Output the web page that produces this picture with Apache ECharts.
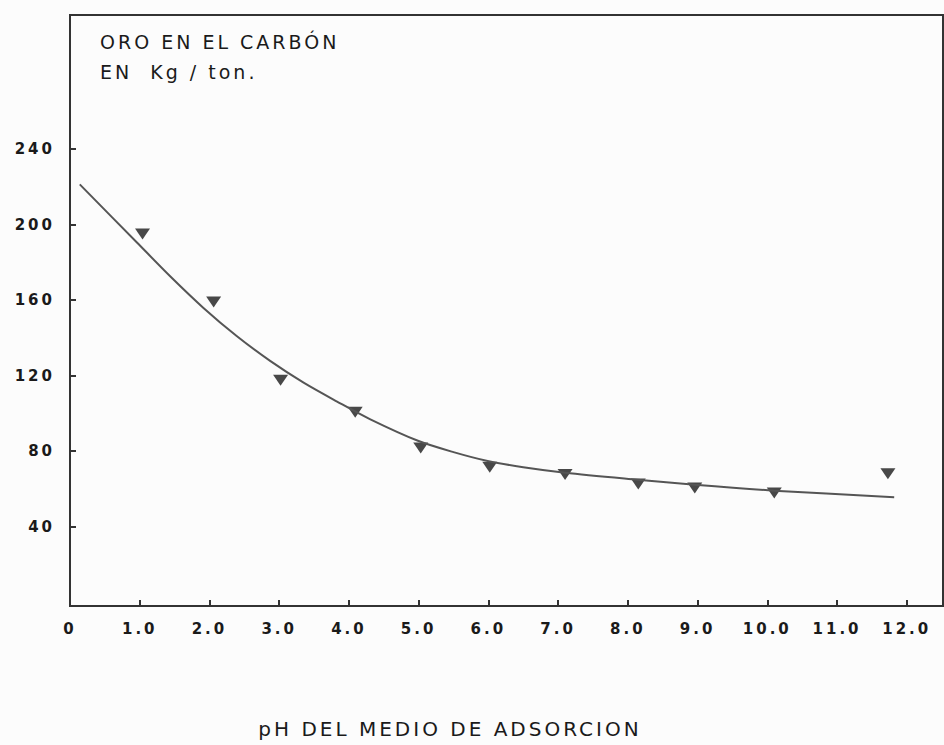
<!DOCTYPE html>
<html>
<head>
<meta charset="utf-8">
<script src="https://cdn.jsdelivr.net/npm/echarts@6/dist/echarts.min.js"></script>
<style>
html,body{margin:0;padding:0;background:#fcfcfc;}
#c{width:944px;height:745px;}
#c text{letter-spacing:3px;}
</style>
</head>
<body>
<div id="c"></div>
<script>
// Measured data (triangles) – pH vs gold on carbon (kg/ton)
const pointsX = [1.04, 2.06, 3.02, 4.09, 5.03, 6.02, 7.1, 8.15, 8.96, 10.1, 11.73];
const pointsY = [195, 159, 117.6, 100.6, 81.7, 71.5, 67.6, 62.6, 60.5, 57.9, 68];
// Fitted curve
const curveX = [0.14, 0.96, 1.44, 1.91, 2.39, 2.87, 3.35, 3.83, 4.3, 4.99, 5.5, 5.99, 6.5, 7.1, 8.14, 8.96, 10.1, 11.82];
const curveY = [221.3, 190.5, 172.5, 156, 141, 127.8, 116.3, 106.3, 97, 85.5, 79.5, 74.8, 71.5, 68.6, 64.9, 62.2, 59.1, 55.6];
// Tick labels
const xTicks = [0, 1, 2, 3, 4, 5, 6, 7, 8, 9, 10, 11, 12];
const yTicks = [40, 80, 120, 160, 200, 240];
const titleLines = ['ORO EN EL CARBÓN', 'EN  Kg / ton.'];
const xAxisTitle = 'pH DEL MEDIO DE ADSORCION';

const chart = echarts.init(document.getElementById('c'), null, {renderer: 'svg'});
const tickFont = {color: '#1a1a1a', fontFamily: 'DejaVu Sans', fontWeight: 'bold', fontSize: 15};
const textStyle = {fontFamily: 'DejaVu Sans', fontSize: 19, fill: '#1a1a1a', verticalAlign: 'middle'};
chart.setOption({
  backgroundColor: '#fcfcfc',
  animation: false,
  grid: {left: 70, top: 15, right: 1, bottom: 139, show: true, borderColor: '#333', borderWidth: 2, backgroundColor: 'transparent'},
  graphic: [
    {type: 'text', x: 100, y: 42, style: Object.assign({text: titleLines[0], align: 'left'}, textStyle)},
    {type: 'text', x: 100, y: 72, style: Object.assign({text: titleLines[1], align: 'left'}, textStyle)},
    {type: 'text', x: 450, y: 729, style: Object.assign({text: xAxisTitle, align: 'center'}, textStyle, {fontSize: 20})}
  ],
  xAxis: {
    type: 'value', min: 0, max: 12.52,
    splitLine: {show: false},
    axisLine: {show: true, onZero: false, lineStyle: {color: '#333', width: 2}},
    axisTick: {show: true, inside: true, length: 6, customValues: xTicks, lineStyle: {color: '#333', width: 2}},
    axisLabel: Object.assign({
      margin: 15, customValues: xTicks,
      formatter: v => v === 0 ? '0' : v.toFixed(1)
    }, tickFont)
  },
  yAxis: {
    type: 'value', min: -2, max: 311,
    splitLine: {show: false},
    axisLine: {show: true, onZero: false, lineStyle: {color: '#333', width: 2}},
    axisTick: {show: true, inside: true, length: 6, customValues: yTicks, lineStyle: {color: '#333', width: 2}},
    axisLabel: Object.assign({margin: 15, customValues: yTicks}, tickFont)
  },
  series: [
    {
      type: 'line', smooth: 0.3, showSymbol: false,
      data: curveX.map((x, i) => [x, curveY[i]]),
      lineStyle: {color: '#555', width: 2}
    },
    {
      type: 'scatter', symbol: 'triangle', symbolRotate: 180, symbolSize: [15, 11],
      data: pointsX.map((x, i) => [x, pointsY[i]]),
      itemStyle: {color: '#1a1a1a'}
    }
  ]
});
</script>
</body>
</html>
